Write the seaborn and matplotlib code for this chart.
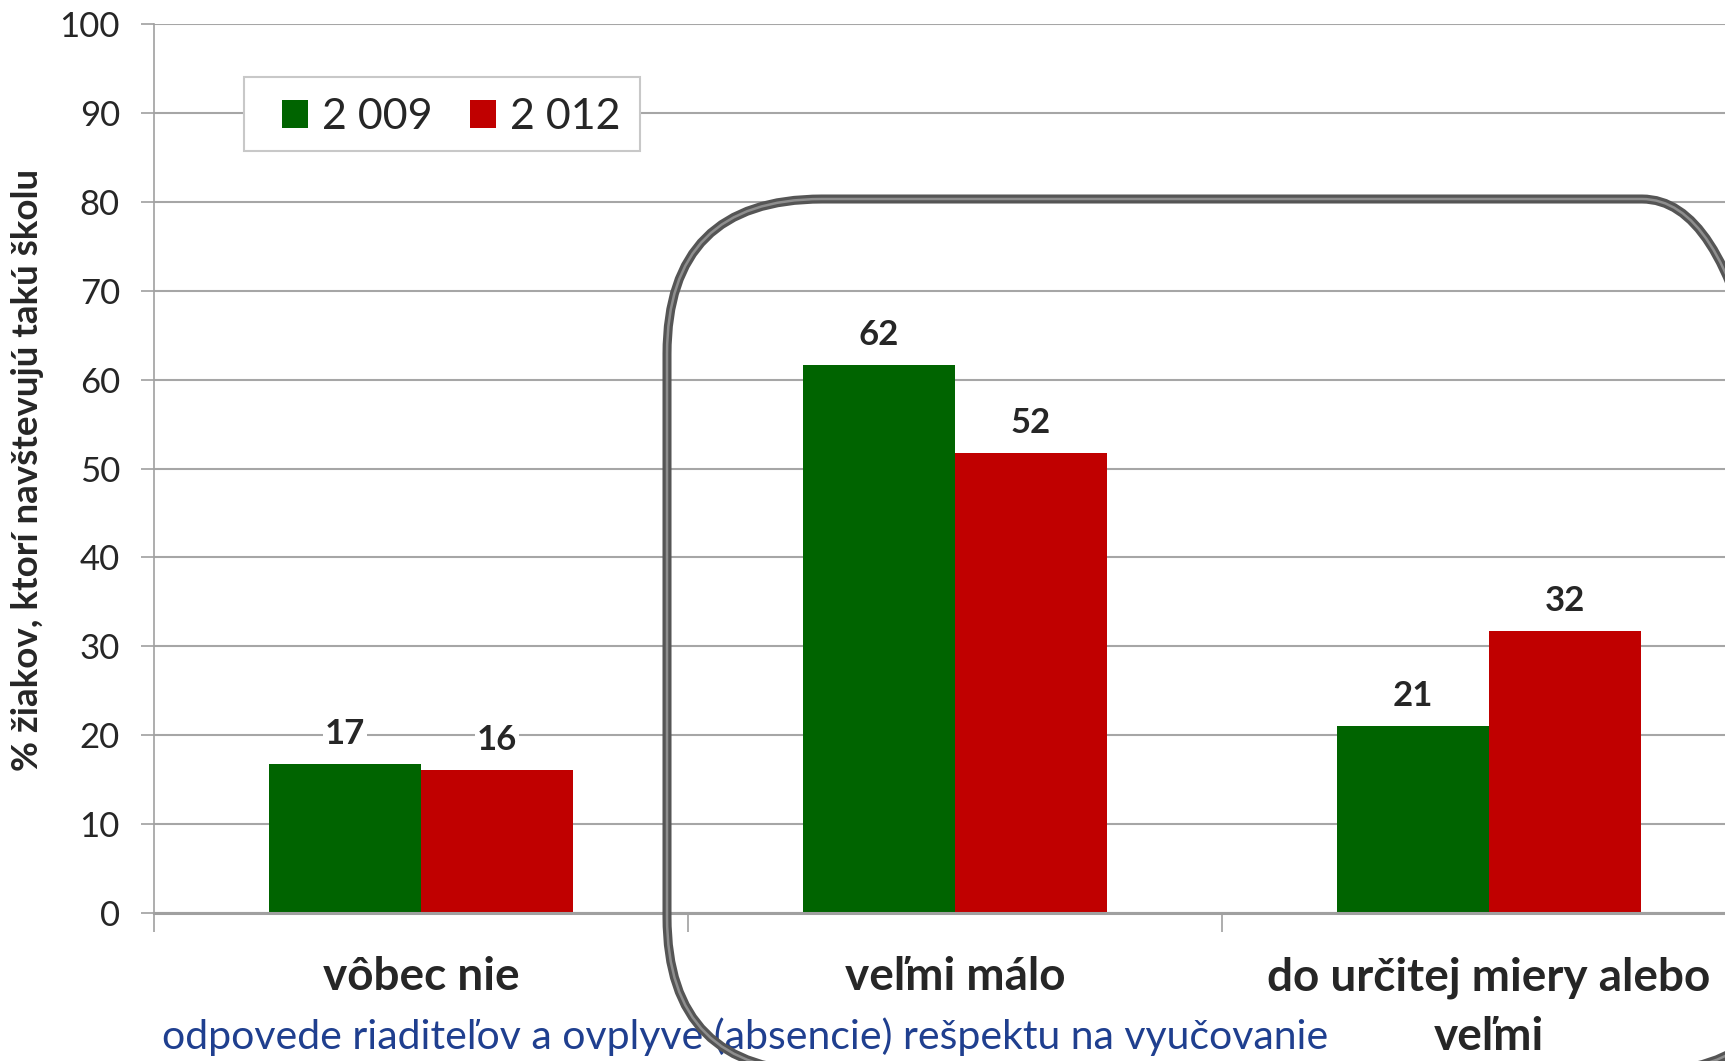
import matplotlib
matplotlib.use("Agg")
import numpy as np
import pandas as pd
import matplotlib.pyplot as plt
import seaborn as sns
from matplotlib.patches import FancyBboxPatch, Rectangle

categories = ["vôbec nie", "veľmi málo", "do určitej miery alebo veľmi"]
tick_labels = ["vôbec nie", "veľmi málo", "do určitej miery alebo\nveľmi"]
years = ["2 009", "2 012"]
values_2009 = [16.8, 61.6, 21.0]
values_2012 = [16.1, 51.7, 31.7]
labels_2009 = ["17", "62", "21"]
labels_2012 = ["16", "52", "32"]
y_ticks = list(range(0, 101, 10))

colors = {"2 009": "#006400", "2 012": "#c00000"}

df = pd.DataFrame({
    "odpoved": categories * 2,
    "rok": [years[0]] * 3 + [years[1]] * 3,
    "hodnota": values_2009 + values_2012,
})

sns.set_style("white")
plt.rcParams["font.family"] = ["Lato", "DejaVu Sans"]

fig = plt.figure(figsize=(17.25, 10.61), dpi=100)
ax = fig.add_axes([154 / 1725, 1 - 913 / 1061, 1602 / 1725, 889 / 1061])

sns.barplot(data=df, x="odpoved", y="hodnota", hue="rok", palette=colors,
            width=0.57, saturation=1, linewidth=0, ax=ax)

ax.set_xlim(-0.5, 2.5)
ax.set_ylim(0, 100)
ax.set_yticks(y_ticks)
ax.yaxis.grid(True, color="#a6a6a6", lw=1.5)
ax.set_axisbelow(True)
ax.set_xlabel("")
ax.set_ylabel("")

for side in ["top", "right"]:
    ax.spines[side].set_visible(False)
ax.spines["left"].set_color("#a0a0a0")
ax.spines["left"].set_linewidth(1.2)
ax.spines["bottom"].set_color("#a0a0a0")
ax.spines["bottom"].set_linewidth(2.2)

ax.tick_params(axis="y", length=9.5, width=1.2, color="#a0a0a0", pad=15,
               labelsize=25, left=True)
ax.set_xticks([0, 1, 2])
ax.set_xticklabels(tick_labels, fontsize=33, fontweight="bold", linespacing=1.5)
ax.set_xticks([-0.5, 0.5, 1.5, 2.5], minor=True)
ax.tick_params(axis="x", which="major", length=0, pad=31)
ax.tick_params(axis="x", which="minor", length=14, width=1.2, color="#a0a0a0",
               bottom=True)

for cont, labs in zip(ax.containers, [labels_2009, labels_2012]):
    ax.bar_label(cont, labels=labs, padding=10, fontsize=25, fontweight="bold",
                 bbox=dict(fc="white", ec="none", pad=1.5))

# legend: frame drawn separately so the padding can differ per direction
box = Rectangle((0.0562, 0.8571), 0.2472, 0.0833, transform=ax.transAxes,
                fc="white", ec="#c8c8c8", lw=1.5, zorder=4)
ax.add_patch(box)
handles, labels = ax.get_legend_handles_labels()
leg = ax.legend(handles, labels, loc="center", bbox_to_anchor=(0.1858, 0.8952),
                ncol=2, frameon=False, fontsize=31, handlelength=0.6,
                handleheight=0.6, handletextpad=0.33, columnspacing=0.87,
                borderpad=0, borderaxespad=0)
leg.set_zorder(5)

fig.text(28 / 1725, 1 - 470 / 1061, "% žiakov, ktorí navštevujú takú školu",
         rotation=90, fontsize=26.5, fontweight="bold", ha="center", va="center")
fig.text(745 / 1725, 1 - 1037 / 1061,
         "odpovede riaditeľov a ovplyve (absencie) rešpektu na vyučovanie",
         fontsize=29.5, color="#1f3f8f", ha="center", va="center")

frame = FancyBboxPatch((6.67, -0.11), 11.3, 8.73,
                       boxstyle="round,pad=0,rounding_size=1.55",
                       transform=fig.dpi_scale_trans, fill=False,
                       ec="#555555", lw=6.5, zorder=10)
fig.add_artist(frame)
shine = FancyBboxPatch((6.67, -0.11), 11.3, 8.73,
                       boxstyle="round,pad=0,rounding_size=1.55",
                       transform=fig.dpi_scale_trans, fill=False,
                       ec="#8e8e8e", lw=1.8, zorder=11)
fig.add_artist(shine)

fig.savefig("out.png", dpi=100)
